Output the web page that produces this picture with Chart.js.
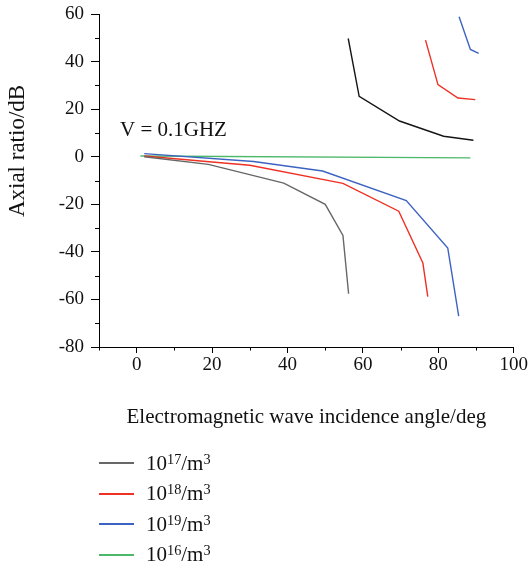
<!DOCTYPE html>
<html>
<head>
<meta charset="utf-8">
<script src="https://cdn.jsdelivr.net/npm/chart.js@4.4.0/dist/chart.umd.min.js"></script>
<style>
    html, body { margin: 0; padding: 0; background: #fff; }
    #wrap { position: relative; width: 529px; height: 572px; }
    #legend { position: absolute; left: 99px; top: 448px; font-family: "Liberation Serif", serif; font-size: 21px; color: #111; }
    .row { height: 30.5px; display: flex; align-items: center; }
    .swatch { width: 35px; height: 2px; margin-right: 12px; }
    sup { font-size: 0.68em; line-height: 0; vertical-align: 0.45em; }
</style>
</head>
<body>
<div id="wrap">
    <canvas id="c" width="529" height="572"></canvas>
    <div id="legend"></div>
</div>
<script>
// incidence angle (deg) / axial ratio (dB)
const gray17Angle = [2, 19, 39, 50, 54.7, 56.2];
const gray17Ratio = [0, -3.2, -11.1, -20, -33.1, -57.6];
const black17Angle = [56.1, 59, 69.7, 81.4, 89.3];
const black17Ratio = [49.7, 25.4, 15, 8.6, 6.9];

const red18Angle = [2, 20, 30, 54.7, 69.5, 75.9, 77.2];
const red18Ratio = [0.3, -2.2, -3.6, -11.2, -22.9, -44.7, -58.8];
const red18UpAngle = [76.6, 79.9, 85.2, 89.8];
const red18UpRatio = [49, 30.3, 24.7, 24.0];

const blue19Angle = [2, 31, 49.3, 71.5, 82.5, 85.4];
const blue19Ratio = [1.3, -2.0, -6.0, -18.4, -38.4, -67];
const blue19UpAngle = [85.5, 88.5, 90.7];
const blue19UpRatio = [58.8, 45.1, 43.4];

const green16Angle = [1, 88.5];
const green16Ratio = [0.3, -0.5];

const densityExp = ['17', '18', '19', '16'];
const xTicks = [0, 20, 40, 60, 80, 100];
const yTicks = [60, 40, 20, 0, -20, -40, -60, -80];

const FONT = '"Liberation Serif", "Times New Roman", serif';

function pts(xs, ys) {
    return xs.map((x, i) => ({ x: x, y: ys[i] }));
}

function series(label, xs, ys, color, inLegend) {
    return {
        label: label,
        data: pts(xs, ys),
        borderColor: color,
        backgroundColor: color,
        borderWidth: 1.4,
        pointRadius: 0,
        tension: 0,
        fill: false,
        inLegend: inLegend
    };
}

const datasets = [
    series(densityExp[0], gray17Angle, gray17Ratio, '#676767', true),
    series(densityExp[1], red18Angle, red18Ratio, '#ee3124', true),
    series(densityExp[2], blue19Angle, blue19Ratio, '#3d63c2', true),
    series(densityExp[3], green16Angle, green16Ratio, '#4cb86a', true),
    series(densityExp[0], black17Angle, black17Ratio, '#151515', false),
    series(densityExp[1], red18UpAngle, red18UpRatio, '#ee3124', false),
    series(densityExp[2], blue19UpAngle, blue19UpRatio, '#3d63c2', false)
];

// short minor ticks, the annotation and the y title
const extras = {
    id: 'extras',
    afterDraw(chart) {
        const ctx = chart.ctx;
        const xs = chart.scales.x;
        const ys = chart.scales.y;
        ctx.save();
        ctx.strokeStyle = '#000';
        ctx.lineWidth = 1;
        ctx.beginPath();
        for (let v = -10; v <= 100; v += 20) {
            const px = Math.round(xs.getPixelForValue(v)) + 0.5;
            ctx.moveTo(px, ys.bottom);
            ctx.lineTo(px, ys.bottom + 3.5);
        }
        for (let v = -70; v <= 50; v += 20) {
            const py = Math.round(ys.getPixelForValue(v)) + 0.5;
            ctx.moveTo(xs.left, py);
            ctx.lineTo(xs.left - 4, py);
        }
        ctx.stroke();

        ctx.fillStyle = '#111';
        ctx.font = '21px ' + FONT;
        ctx.textBaseline = 'middle';
        ctx.textAlign = 'left';
        ctx.fillText('V = 0.1GHZ', 120, 130);

        ctx.font = '23px ' + FONT;
        ctx.translate(18, 151);
        ctx.rotate(-Math.PI / 2);
        ctx.textAlign = 'center';
        ctx.fillText('Axial ratio/dB', 0, 0);
        ctx.restore();
    }
};

const chart = new Chart(document.getElementById('c'), {
    type: 'line',
    data: { datasets: datasets },
    options: {
        responsive: false,
        animation: false,
        layout: { padding: { left: 0, top: 14, right: 15, bottom: 135 } },
        plugins: { legend: { display: false }, tooltip: { enabled: false } },
        scales: {
            x: {
                type: 'linear',
                min: -10,
                max: 100,
                afterFit: (s) => { s.height = 90; },
                afterBuildTicks: (s) => { s.ticks = []; for (let v = -10; v <= 100; v += 10) s.ticks.push({ value: v }); },
                ticks: {
                    color: '#111',
                    font: { family: FONT, size: 19 },
                    padding: 1,
                    maxRotation: 0,
                    autoSkip: false,
                    callback: (v) => xTicks.includes(v) ? String(v) : ''
                },
                grid: {
                    drawOnChartArea: false,
                    tickLength: 6,
                    tickColor: (c) => xTicks.includes(c.tick && c.tick.value) ? '#000' : 'rgba(0,0,0,0)'
                },
                border: { color: '#000', width: 1 },
                title: {
                    display: true,
                    text: 'Electromagnetic wave incidence angle/deg',
                    color: '#111',
                    font: { family: FONT, size: 21 },
                    padding: { top: 0, bottom: 7 }
                }
            },
            y: {
                type: 'linear',
                min: -80,
                max: 60,
                afterFit: (s) => { s.width = 99; s.paddingTop = 0; s.paddingBottom = 0; },
                afterBuildTicks: (s) => { s.ticks = []; for (let v = -80; v <= 60; v += 10) s.ticks.push({ value: v }); },
                ticks: {
                    color: '#111',
                    font: { family: FONT, size: 19 },
                    padding: 7,
                    autoSkip: false,
                    callback: (v) => yTicks.includes(v) ? String(v) : ''
                },
                grid: {
                    drawOnChartArea: false,
                    tickLength: 8,
                    tickColor: (c) => yTicks.includes(c.tick && c.tick.value) ? '#000' : 'rgba(0,0,0,0)'
                },
                border: { color: '#000', width: 1 }
            }
        }
    },
    plugins: [extras]
});

// legend built from the datasets
const legendEl = document.getElementById('legend');
chart.data.datasets.filter((d) => d.inLegend).forEach((d) => {
    const row = document.createElement('div');
    row.className = 'row';
    row.innerHTML = '<span class="swatch" style="background:' + d.borderColor + '"></span>' +
        '<span>10<sup>' + d.label + '</sup>/m<sup>3</sup></span>';
    legendEl.appendChild(row);
});
</script>
</body>
</html>
